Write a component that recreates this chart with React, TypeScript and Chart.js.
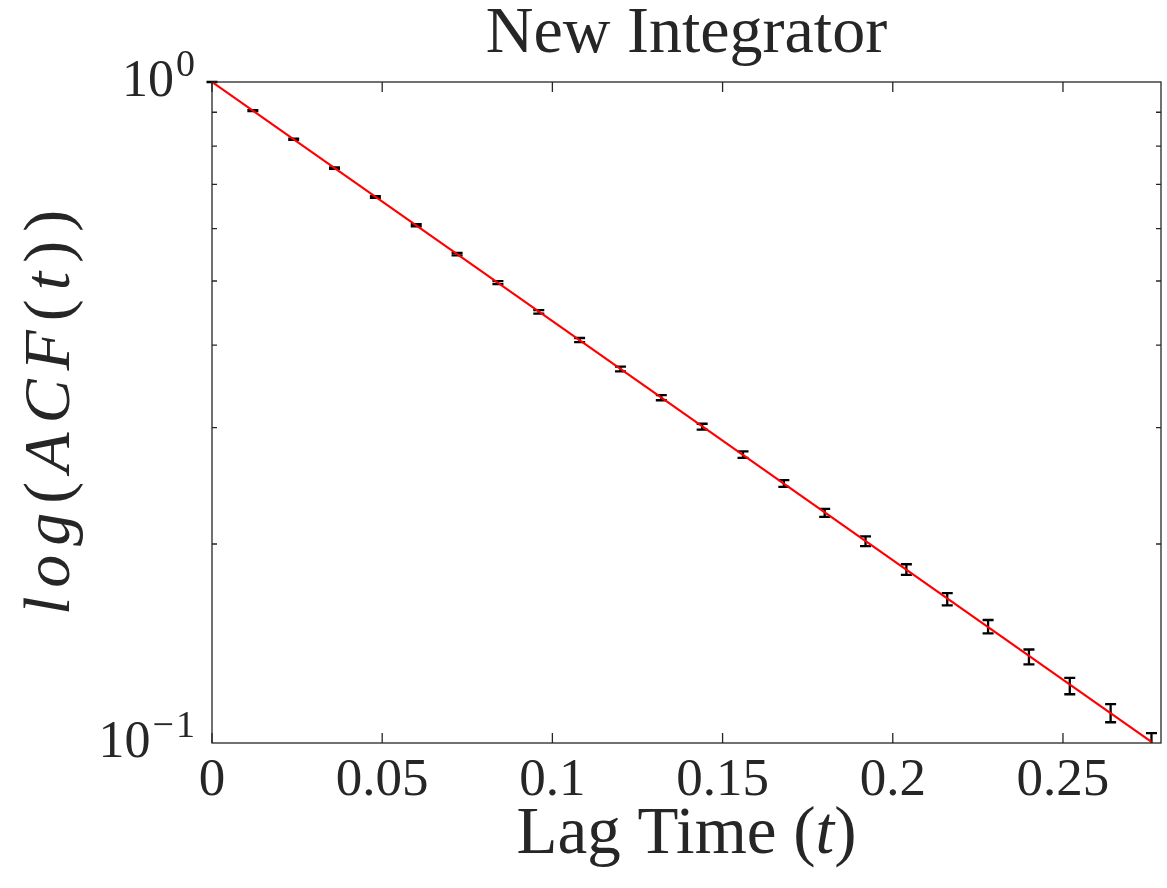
import React, { useEffect, useRef } from 'react';
import { Chart, registerables } from 'chart.js';

Chart.register(...registerables);

// ---- text ----
const titleText = 'New Integrator';
const xAxisLabel = 'Lag Time (t)';
const xLabelParts = ['Lag Time (', 't', ')'];
const xLabelItalic = [false, true, false];
const yAxisLabel = 'log(ACF(t))';
const yLabelParts = ['log', '(', 'ACF', '(', 't', '))'];
const yLabelItalic = [true, false, true, false, true, false];

// ---- data ----
const lagTimes = [
  0, 0.012, 0.024, 0.036, 0.048, 0.06, 0.072, 0.084, 0.096, 0.108, 0.12, 0.132,
  0.144, 0.156, 0.168, 0.18, 0.192, 0.204, 0.216, 0.228, 0.24, 0.252, 0.264, 0.276,
];
const acfMean = [
  1.0, 0.905, 0.819, 0.741, 0.67, 0.607, 0.549, 0.497, 0.449, 0.407, 0.368, 0.333,
  0.301, 0.273, 0.247, 0.223, 0.202, 0.183, 0.165, 0.15, 0.135, 0.122, 0.111, 0.1,
];
const acfError = [
  0, 0.0012, 0.0016, 0.0019, 0.0021, 0.0023, 0.0025, 0.0026, 0.0028, 0.0029, 0.003, 0.003,
  0.0031, 0.0031, 0.0029, 0.0031, 0.0034, 0.0034, 0.0035, 0.0035, 0.0035, 0.0035, 0.0035, 0.0035,
];
const fitTimes = [0, 0.276];
const fitACF = [1.0, 0.1004];

// ---- axes ----
const xMin = 0;
const xMax = 0.2788;
const yMin = 0.1;
const yMax = 1;
const xTickValues = [0, 0.05, 0.1, 0.15, 0.2, 0.25];
const xTickLabels = ['0', '0.05', '0.1', '0.15', '0.2', '0.25'];
const yMajorTicks = [0.1, 1];
const yTickBases = ['10', '10'];
const yTickExponents = ['\u22121', '0'];
const yMinorTicks = [0.2, 0.3, 0.4, 0.5, 0.6, 0.7, 0.8, 0.9];

const FONT = '"Liberation Serif", "DejaVu Serif", serif';
const AXIS_COLOR = '#262626';
const TEXT_COLOR = '#262626';

function drawParts(
  ctx: CanvasRenderingContext2D,
  parts: string[],
  italic: boolean[],
  size: number,
  spacing: number,
  cx: number,
  baselineY: number
) {
  (ctx as any).letterSpacing = `${spacing}px`;
  const widths = parts.map((p, i) => {
    ctx.font = `${italic[i] ? 'italic ' : ''}${size}px ${FONT}`;
    return ctx.measureText(p).width;
  });
  const total = widths.reduce((s, w) => s + w, 0) - spacing;
  let x = cx - total / 2;
  ctx.textAlign = 'left';
  parts.forEach((p, i) => {
    ctx.font = `${italic[i] ? 'italic ' : ''}${size}px ${FONT}`;
    ctx.fillText(p, x, baselineY);
    x += widths[i];
  });
  (ctx as any).letterSpacing = '0px';
}

const errorBarPlugin = {
  id: 'errorBars',
  beforeDatasetsDraw(chart: any) {
    const { ctx, chartArea: a, scales } = chart;
    const xs = scales.x;
    const ys = scales.y;
    ctx.save();
    ctx.beginPath();
    ctx.rect(a.left - 8, a.top - 8, a.right - a.left + 16, a.bottom - a.top + 8);
    ctx.clip();
    ctx.strokeStyle = '#000000';
    ctx.lineWidth = 2.3;
    ctx.beginPath();
    const cap = 5.5;
    lagTimes.forEach((t, i) => {
      const px = xs.getPixelForValue(t);
      const lo = ys.getPixelForValue(acfMean[i] - acfError[i]);
      const hi = ys.getPixelForValue(acfMean[i] + acfError[i]);
      ctx.moveTo(px, lo);
      ctx.lineTo(px, hi);
      ctx.moveTo(px - cap, lo);
      ctx.lineTo(px + cap, lo);
      ctx.moveTo(px - cap, hi);
      ctx.lineTo(px + cap, hi);
    });
    ctx.stroke();
    ctx.restore();
  },
};

const axesPlugin = {
  id: 'matlabAxes',
  afterDraw(chart: any) {
    const { ctx, chartArea: a, scales } = chart;
    const xs = scales.x;
    const ys = scales.y;
    ctx.save();
    ctx.strokeStyle = AXIS_COLOR;
    ctx.lineWidth = 1.3;
    ctx.strokeRect(a.left, a.top, a.right - a.left, a.bottom - a.top);
    ctx.beginPath();
    xTickValues.forEach((v) => {
      const px = xs.getPixelForValue(v);
      ctx.moveTo(px, a.bottom);
      ctx.lineTo(px, a.bottom - 10);
      ctx.moveTo(px, a.top);
      ctx.lineTo(px, a.top + 10);
    });
    yMinorTicks.forEach((v) => {
      const py = ys.getPixelForValue(v);
      ctx.moveTo(a.left, py);
      ctx.lineTo(a.left + 5, py);
      ctx.moveTo(a.right, py);
      ctx.lineTo(a.right - 5, py);
    });
    ctx.stroke();

    ctx.fillStyle = TEXT_COLOR;

    // y tick labels with superscript exponents
    ctx.textAlign = 'right';
    ctx.textBaseline = 'alphabetic';
    const xRight = a.left - 17;
    yMajorTicks.forEach((v, i) => {
      const py = ys.getPixelForValue(v);
      ctx.font = `38px ${FONT}`;
      (ctx as any).letterSpacing = '2px';
      const w = ctx.measureText(yTickExponents[i]).width;
      ctx.fillText(yTickExponents[i], xRight + 2, py - 6);
      (ctx as any).letterSpacing = '0px';
      ctx.font = `52px ${FONT}`;
      ctx.fillText(yTickBases[i], xRight - w, py + 14);
    });

    // title
    const cx = (a.left + a.right) / 2;
    ctx.textBaseline = 'alphabetic';
    drawParts(ctx, [titleText], [false], 66, 0, cx, 52);

    // x axis title
    drawParts(ctx, xLabelParts, xLabelItalic, 67, 0, cx, 853);

    // y axis title (rotated)
    ctx.save();
    ctx.translate(52, (a.top + a.bottom) / 2);
    ctx.rotate(-Math.PI / 2);
    ctx.textBaseline = 'middle';
    drawParts(ctx, yLabelParts, yLabelItalic, 66, 9, 0, 0);
    ctx.restore();

    ctx.restore();
  },
};

export default function App() {
  const canvasRef = useRef<HTMLCanvasElement | null>(null);

  useEffect(() => {
    if (!canvasRef.current) return;
    const chart = new Chart(canvasRef.current, {
      type: 'line',
      data: {
        datasets: [
          {
            label: yAxisLabel,
            data: fitTimes.map((t, i) => ({ x: t, y: fitACF[i] })),
            borderColor: '#ff0000',
            borderWidth: 2.2,
            pointRadius: 0,
            fill: false,
            tension: 0,
          },
        ],
      },
      options: {
        animation: false,
        responsive: true,
        maintainAspectRatio: false,
        layout: { padding: { left: 0, right: 6, top: 82, bottom: 0 } },
        plugins: {
          legend: { display: false },
          tooltip: { enabled: false },
          title: { display: false, text: titleText },
        },
        scales: {
          x: {
            type: 'linear',
            min: xMin,
            max: xMax,
            grid: { display: false, drawTicks: false },
            border: { display: false },
            afterBuildTicks: (s: any) => {
              s.ticks = xTickValues.map((v) => ({ value: v }));
            },
            ticks: {
              autoSkip: false,
              maxRotation: 0,
              padding: 6,
              color: TEXT_COLOR,
              font: { family: FONT, size: 53 },
              callback: (v: any) => xTickLabels[xTickValues.indexOf(Number(v))] ?? '',
            },
            title: { display: false, text: xAxisLabel },
            afterFit: (s: any) => {
              s.height = 145;
            },
          },
          y: {
            type: 'logarithmic',
            min: yMin,
            max: yMax,
            grid: { display: false, drawTicks: false },
            border: { display: false },
            ticks: { display: false },
            title: { display: false, text: yAxisLabel },
            afterFit: (s: any) => {
              s.width = 212;
            },
          },
        },
      } as any,
      plugins: [errorBarPlugin, axesPlugin],
    });
    return () => chart.destroy();
  }, []);

  return (
    <div style={{ position: 'absolute', left: 0, top: 0, width: 1167, height: 888, background: '#ffffff' }}>
      <canvas ref={canvasRef} />
    </div>
  );
}
